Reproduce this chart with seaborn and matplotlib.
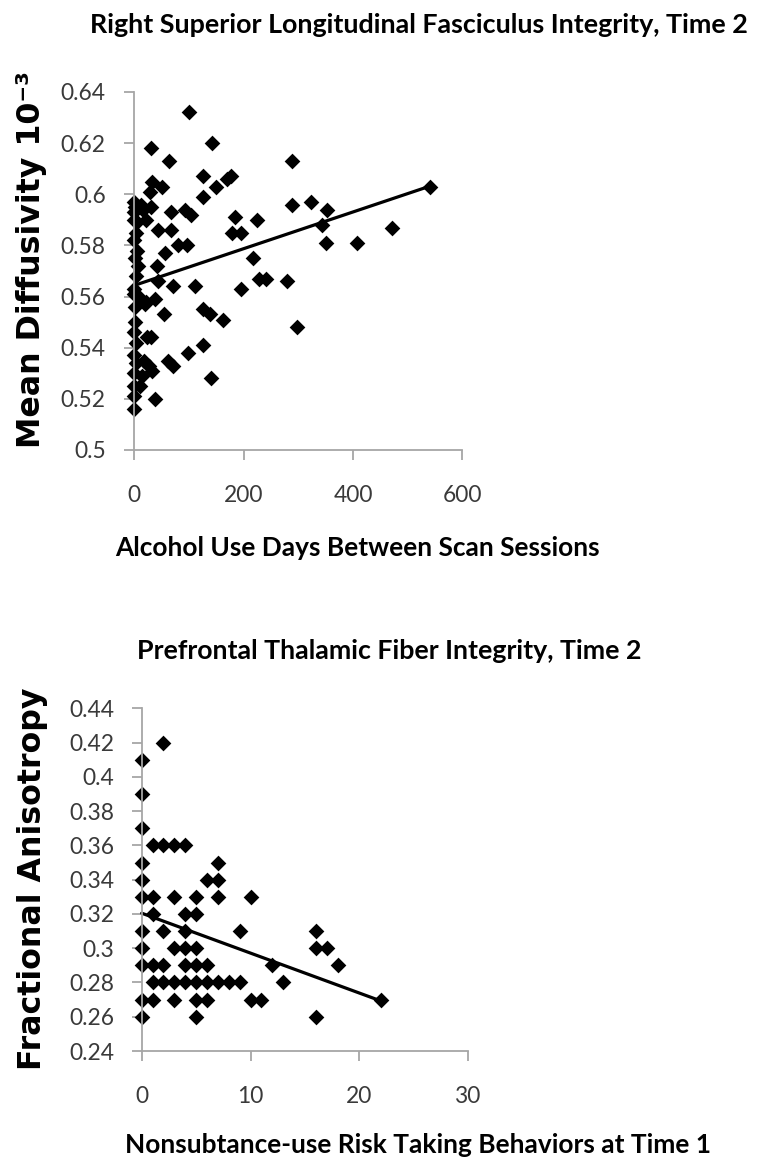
import numpy as np
import matplotlib
matplotlib.use('Agg')
import matplotlib.pyplot as plt
import seaborn as sns

# top panel: alcohol use days vs mean diffusivity (x10^-3)
alc_days = [100, 143, 288, 126, 170, 176, 149, 125, 541, 288,
            323, 353, 343, 350, 408, 471, 92, 103, 184, 224,
            178, 196, 96, 218, 228, 240, 280, 111, 196, 126,
            138, 162, 298, 126, 98, 140,
            30, 63, 33, 50, 28, 68, 44, 68, 80, 56,
            41, 44, 71, 22, 37, 20, 55, 30, 23, 62,
            71, 17, 26, 32, 38, 30, 15, 22, 12, 14, 10,
            0, 0, 5, 3, 0, 5, 2, 6, 3, 0,
            8, 0, 2, 0, 4, 0, 0, 0, 0, 0,
            3, 1, 0, 2]
mean_diff = [0.632, 0.620, 0.613, 0.607, 0.606, 0.607, 0.603, 0.599, 0.603, 0.596,
             0.597, 0.594, 0.588, 0.581, 0.581, 0.587, 0.594, 0.592, 0.591, 0.590,
             0.585, 0.585, 0.580, 0.575, 0.567, 0.567, 0.566, 0.564, 0.563, 0.555,
             0.553, 0.551, 0.548, 0.541, 0.538, 0.528,
             0.618, 0.613, 0.605, 0.603, 0.601, 0.593, 0.586, 0.586, 0.580, 0.577,
             0.572, 0.566, 0.564, 0.558, 0.559, 0.557, 0.553, 0.544, 0.544, 0.535,
             0.533, 0.535, 0.533, 0.531, 0.520, 0.595, 0.594, 0.590, 0.596, 0.529, 0.525,
             0.597, 0.593, 0.589, 0.585, 0.582, 0.578, 0.575, 0.572, 0.568, 0.563,
             0.560, 0.561, 0.550, 0.546, 0.542, 0.537, 0.530, 0.525, 0.521, 0.516,
             0.534, 0.556, 0.590, 0.595]

# bottom panel: risk taking behaviours vs fractional anisotropy
risk_behav = [0, 0, 0, 0, 0, 0, 0, 0, 0, 0, 0,
              1, 1, 1, 1, 1, 1,
              2, 2, 2, 2, 2,
              3, 3, 3, 3, 3,
              4, 4, 4, 4, 4, 4,
              5, 5, 5, 5, 5, 5, 5,
              6, 6, 6, 6,
              7, 7, 7, 7,
              8, 9, 9, 10, 10, 11, 12, 13,
              16, 16, 16, 17, 18, 22]
frac_aniso = [0.41, 0.39, 0.37, 0.35, 0.34, 0.33, 0.31, 0.30, 0.29, 0.27, 0.26,
              0.36, 0.33, 0.32, 0.29, 0.28, 0.27,
              0.42, 0.36, 0.31, 0.29, 0.28,
              0.36, 0.33, 0.30, 0.28, 0.27,
              0.36, 0.32, 0.31, 0.30, 0.29, 0.28,
              0.33, 0.32, 0.30, 0.29, 0.28, 0.27, 0.26,
              0.34, 0.29, 0.28, 0.27,
              0.35, 0.34, 0.33, 0.28,
              0.28, 0.31, 0.28, 0.33, 0.27, 0.27, 0.29, 0.28,
              0.31, 0.30, 0.26, 0.30, 0.29, 0.27]

top_title = 'Right Superior Longitudinal Fasciculus Integrity, Time 2'
top_xlabel = 'Alcohol Use Days Between Scan Sessions'
top_ylabel = 'Mean Diffusivity 10\u207b\u00b3'
top_xticks = [0, 200, 400, 600]
top_yticks = [0.5, 0.52, 0.54, 0.56, 0.58, 0.6, 0.62, 0.64]
top_ytick_labels = ['0.5', '0.52', '0.54', '0.56', '0.58', '0.6', '0.62', '0.64']

bot_title = 'Prefrontal Thalamic Fiber Integrity, Time 2'
bot_xlabel = 'Nonsubtance-use Risk Taking Behaviors at Time 1'
bot_ylabel = 'Fractional Anisotropy'
bot_xticks = [0, 10, 20, 30]
bot_yticks = [0.24, 0.26, 0.28, 0.3, 0.32, 0.34, 0.36, 0.38, 0.4, 0.42, 0.44]
bot_ytick_labels = ['0.24', '0.26', '0.28', '0.3', '0.32', '0.34', '0.36',
                    '0.38', '0.4', '0.42', '0.44']

sns.set_style('ticks')
plt.rcParams['font.family'] = ['Lato', 'DejaVu Sans']

W, H = 759, 1163
fig = plt.figure(figsize=(W / 100, H / 100), dpi=100)
renderer = fig.canvas.get_renderer()


def fit_size(text, width_px, size=16, **kw):
    # font size that makes `text` about width_px pixels wide
    t = fig.text(0, 0, text, fontsize=size, **kw)
    w = t.get_window_extent(renderer).width
    t.remove()
    return size * width_px / w


title_fs = fit_size(top_title, 662, weight='bold')
xlab_fs = fit_size('Alcohol Use Days Between Sca', 365, weight='bold')
bot_title_fs = fit_size('Prefrontal Thalamic Fiber Int', 343, weight='bold')
bot_xlab_fs = fit_size('Nonsubtance-use Risk Taking Bel', 393, weight='bold')
tick_fs = fit_size('0.64', 45)
ylab_fs = fit_size(top_ylabel, 378, weight='bold', family='DejaVu Sans')


def px_axes(left, top, right, bottom):
    return fig.add_axes([left / W, 1 - bottom / H, (right - left) / W, (bottom - top) / H])


def style_axes(ax, xticks, yticks, ylabels, xlim, ylim, ypad, xpad):
    ax.set_xlim(xlim)
    ax.set_ylim(ylim)
    ax.set_xticks(xticks)
    ax.set_xticklabels([str(t) for t in xticks])
    ax.set_yticks(yticks)
    ax.set_yticklabels(ylabels)
    sns.despine(ax=ax)
    for side in ['left', 'bottom']:
        ax.spines[side].set_color('#a6a6a6')
        ax.spines[side].set_linewidth(1.3)
    ax.tick_params(length=7, width=1.3, color='#a6a6a6', labelsize=tick_fs,
                   labelcolor='#3a3a3a')
    ax.tick_params(axis='y', pad=ypad)
    ax.tick_params(axis='x', pad=xpad)
    ax.set_xlabel('')
    ax.set_ylabel('')


scatter_style = {'s': 64, 'linewidths': 0, 'alpha': 1, 'clip_on': False}
line_style = {'lw': 2.3, 'clip_on': False}

ax1 = px_axes(134.3, 92, 462.3, 450)
sns.regplot(x=alc_days, y=mean_diff, ax=ax1, ci=None, marker='D', color='black',
            truncate=True, scatter_kws=scatter_style, line_kws=line_style)
style_axes(ax1, top_xticks, top_yticks, top_ytick_labels, (0, 600), (0.5, 0.64), 13.5, 18)

ax2 = px_axes(141.7, 708.3, 468.3, 1051)
sns.regplot(x=risk_behav, y=frac_aniso, ax=ax2, ci=None, marker='D', color='black',
            truncate=True, scatter_kws=scatter_style, line_kws=line_style)
style_axes(ax2, bot_xticks, bot_yticks, bot_ytick_labels, (0, 30), (0.24, 0.44), 12.5, 18)

# titles and axis labels placed in figure pixels
fig.text(90 / W, 1 - 25 / H, top_title, ha='left', va='center',
         fontsize=title_fs, fontweight='bold', color='black')
fig.text(115 / W, 1 - 548 / H, top_xlabel, ha='left', va='center',
         fontsize=xlab_fs, fontweight='bold', color='black')
fig.text(32 / W, 1 - 448 / H, top_ylabel, rotation=90, ha='center', va='bottom',
         fontsize=ylab_fs, fontweight='bold', family='DejaVu Sans', color='black')

fig.text(137 / W, 1 - 651 / H, bot_title, ha='left', va='center',
         fontsize=bot_title_fs, fontweight='bold', color='black')
fig.text(125 / W, 1 - 1145 / H, bot_xlabel, ha='left', va='center',
         fontsize=bot_xlab_fs, fontweight='bold', color='black')
fig.text(33 / W, 1 - 1070 / H, bot_ylabel, rotation=90, ha='center', va='bottom',
         fontsize=ylab_fs, fontweight='bold', family='DejaVu Sans', color='black')

fig.savefig('out.png', dpi=100)
